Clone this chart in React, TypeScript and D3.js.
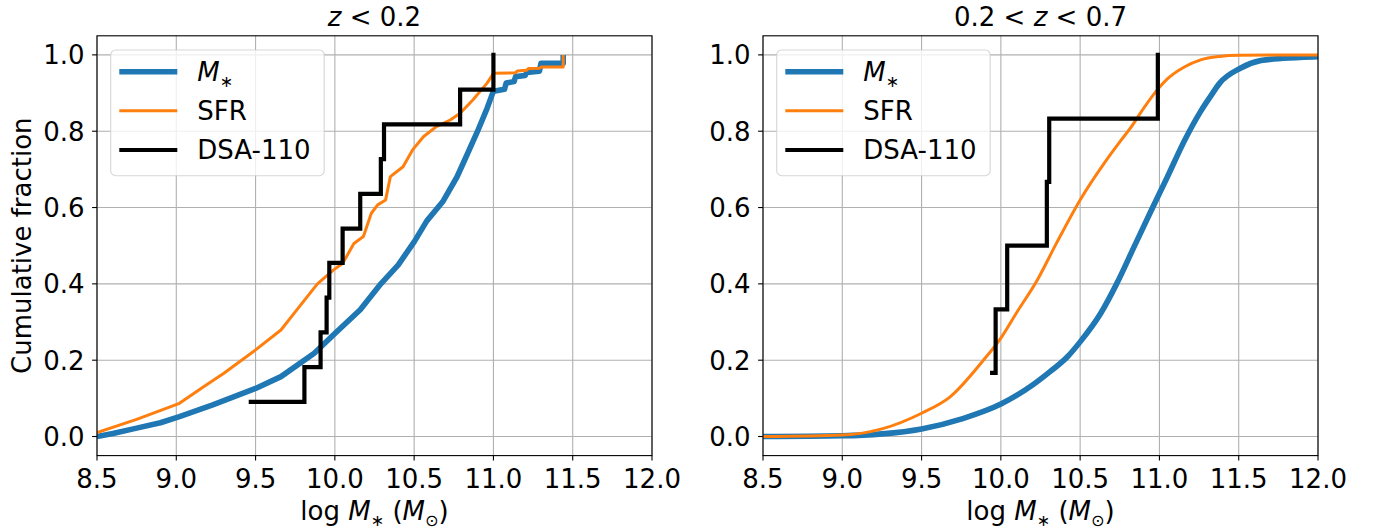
import React from "react";
import * as d3 from "d3";

const FONT = "DejaVu Sans, sans-serif";
const X_TICKS = [8.5, 9.0, 9.5, 10.0, 10.5, 11.0, 11.5, 12.0];
const Y_TICKS = [0.0, 0.2, 0.4, 0.6, 0.8, 1.0];
const SERIES_NAMES = ["Mstar", "SFR", "DSA-110"];
const COLORS = ["#1f77b4", "#ff7f0e", "#000000"];
const WIDTHS = [5.6, 3.0, 4.2];

// Panel 1: z < 0.2
const lowMstarX = [8.5, 8.6, 8.75, 8.9, 9.02, 9.23, 9.5, 9.66, 9.87, 10.0, 10.16, 10.29, 10.4, 10.5, 10.58, 10.68, 10.77, 10.83, 10.9, 10.96, 11.0, 11.07, 11.08, 11.13, 11.14, 11.2, 11.21, 11.29, 11.3, 11.44, 11.44];
const lowMstarY = [0.0, 0.008, 0.022, 0.036, 0.052, 0.083, 0.126, 0.157, 0.218, 0.27, 0.332, 0.4, 0.45, 0.51, 0.565, 0.615, 0.68, 0.735, 0.8, 0.86, 0.905, 0.91, 0.926, 0.93, 0.943, 0.946, 0.954, 0.957, 0.978, 0.978, 1.0];
const lowSfrX = [8.5, 8.75, 9.02, 9.17, 9.3, 9.5, 9.66, 9.76, 9.89, 9.99, 10.05, 10.12, 10.18, 10.23, 10.27, 10.32, 10.35, 10.43, 10.49, 10.56, 10.64, 10.73, 10.79, 10.87, 10.96, 10.99, 11.0, 11.14, 11.15, 11.21, 11.22, 11.29, 11.3, 11.44, 11.44];
const lowSfrY = [0.01, 0.045, 0.087, 0.13, 0.166, 0.227, 0.279, 0.332, 0.4, 0.436, 0.454, 0.506, 0.524, 0.585, 0.607, 0.62, 0.681, 0.707, 0.751, 0.786, 0.812, 0.83, 0.847, 0.882, 0.926, 0.945, 0.952, 0.953, 0.958, 0.96, 0.964, 0.965, 0.968, 0.968, 1.0];
const lowDsaX = [9.47, 9.808, 9.91, 9.948, 9.965, 10.049, 10.16, 10.29, 10.31, 10.79, 11.0];
const lowDsaY = [0.091, 0.182, 0.273, 0.364, 0.455, 0.545, 0.636, 0.727, 0.818, 0.909, 1.0];

// Panel 2: 0.2 < z < 0.7
const midMstarX = [8.5, 9.0, 9.25, 9.5, 9.76, 10.0, 10.2, 10.31, 10.42, 10.5, 10.63, 10.73, 10.84, 10.94, 11.05, 11.16, 11.26, 11.32, 11.38, 11.51, 11.64, 11.78, 12.0, 12.1];
const midMstarY = [0.0, 0.002, 0.007, 0.02, 0.047, 0.085, 0.135, 0.17, 0.209, 0.248, 0.323, 0.4, 0.497, 0.585, 0.68, 0.777, 0.852, 0.89, 0.926, 0.965, 0.985, 0.991, 0.995, 0.996];
const midSfrX = [8.5, 9.0, 9.25, 9.5, 9.68, 9.89, 10.0, 10.1, 10.23, 10.35, 10.5, 10.65, 10.75, 10.82, 10.9, 10.98, 11.05, 11.16, 11.26, 11.38, 11.5, 12.0, 12.1];
const midSfrY = [0.0, 0.004, 0.02, 0.061, 0.104, 0.2, 0.258, 0.325, 0.41, 0.506, 0.62, 0.715, 0.772, 0.81, 0.86, 0.905, 0.937, 0.969, 0.987, 0.996, 0.999, 1.0, 1.0];
const midDsaX = [9.945, 9.967, 10.04, 10.29, 10.305, 10.99];
const midDsaY = [0.167, 0.333, 0.5, 0.667, 0.833, 1.0];

const FS = 26;
const TOP = 35.8;
const BOTTOM = 455.6;
const WIDTH = 555;
const SUB = 6;
const SUBFS = FS * 0.62;

type PanelProps = {
  id: string;
  left: number;
  title: React.ReactNode;
  showYLabel: boolean;
  smooth: boolean;
  mx: number[]; my: number[];
  sx: number[]; sy: number[];
  dx: number[]; dy: number[];
};

function Panel(p: PanelProps) {
  const x = d3.scaleLinear().domain([8.5, 12]).range([p.left, p.left + WIDTH]);
  const y = d3.scaleLinear().domain([-0.05, 1.05]).range([BOTTOM, TOP]);
  const lin = d3.line<[number, number]>().x((d) => x(d[0])).y((d) => y(d[1]));
  if (p.smooth) lin.curve(d3.curveMonotoneX);
  const step = d3.line<[number, number]>().x((d) => x(d[0])).y((d) => y(d[1])).curve(d3.curveStepAfter);
  const mPts = p.mx.map((v, i) => [v, p.my[i]] as [number, number]);
  const sPts = p.sx.map((v, i) => [v, p.sy[i]] as [number, number]);
  const dPts = p.dx.map((v, i) => [v, p.dy[i]] as [number, number]);
  const cx = p.left + WIDTH / 2;
  const legX = p.left + 13.7;
  const legRows = [71.7, 110.7, 150];
  const labels: React.ReactNode[] = [
    <>
      <tspan fontStyle="italic">M</tspan>
      <tspan dy={SUB} fontSize={SUBFS}>{"\u2217"}</tspan>
    </>,
    "SFR",
    "DSA-110",
  ];
  return (
    <g>
      <defs>
        <clipPath id={p.id}>
          <rect x={p.left} y={TOP} width={WIDTH} height={BOTTOM - TOP} />
        </clipPath>
      </defs>
      {X_TICKS.map((t) => (
        <line key={"gx" + t} x1={x(t)} x2={x(t)} y1={TOP} y2={BOTTOM} stroke="#b0b0b0" strokeWidth={1.1} />
      ))}
      {Y_TICKS.map((t) => (
        <line key={"gy" + t} x1={p.left} x2={p.left + WIDTH} y1={y(t)} y2={y(t)} stroke="#b0b0b0" strokeWidth={1.1} />
      ))}
      <g clipPath={`url(#${p.id})`}>
        <path d={lin(mPts) || ""} fill="none" stroke={COLORS[0]} strokeWidth={WIDTHS[0]} strokeLinejoin="round" />
        <path d={lin(sPts) || ""} fill="none" stroke={COLORS[1]} strokeWidth={WIDTHS[1]} strokeLinejoin="round" />
        <path d={step(dPts) || ""} fill="none" stroke={COLORS[2]} strokeWidth={WIDTHS[2]} strokeLinejoin="miter" strokeLinecap="square" />
      </g>
      <rect x={p.left} y={TOP} width={WIDTH} height={BOTTOM - TOP} fill="none" stroke="#000" strokeWidth={1.1} />
      {X_TICKS.map((t) => (
        <g key={"tx" + t}>
          <line x1={x(t)} x2={x(t)} y1={BOTTOM} y2={BOTTOM + 4.9} stroke="#000" strokeWidth={1.1} />
          <text x={x(t)} y={488} textAnchor="middle" fontFamily={FONT} fontSize={FS} fill="#000">{t.toFixed(1)}</text>
        </g>
      ))}
      {Y_TICKS.map((t) => (
        <g key={"ty" + t}>
          <line x1={p.left - 4.9} x2={p.left} y1={y(t)} y2={y(t)} stroke="#000" strokeWidth={1.1} />
          <text x={p.left - 12.5} y={y(t)} dy="0.36em" textAnchor="end" fontFamily={FONT} fontSize={FS} fill="#000">{t.toFixed(1)}</text>
        </g>
      ))}
      <text x={cx} y={26} textAnchor="middle" fontFamily={FONT} fontSize={FS} fill="#000">{p.title}</text>
      <text x={cx} y={520} textAnchor="middle" fontFamily={FONT} fontSize={FS} fill="#000">
        <tspan>log </tspan>
        <tspan fontStyle="italic">M</tspan>
        <tspan dy={SUB} fontSize={SUBFS}>{"\u2217"}</tspan>
        <tspan dy={-SUB}> (</tspan>
        <tspan fontStyle="italic">M</tspan>
        <tspan dy={SUB} fontSize={SUBFS}>{"\u2299"}</tspan>
        <tspan dy={-SUB}>)</tspan>
      </text>
      {p.showYLabel && (
        <text transform={`translate(30.5, ${(TOP + BOTTOM) / 2}) rotate(-90)`} textAnchor="middle" fontFamily={FONT} fontSize={FS} fill="#000">
          Cumulative fraction
        </text>
      )}
      <rect x={legX} y={50} width={213.5} height={125.7} rx={5} ry={5} fill="#ffffff" fillOpacity={0.8} stroke="#cccccc" strokeOpacity={0.8} strokeWidth={1.1} />
      {SERIES_NAMES.map((n, i) => (
        <g key={n}>
          <line x1={legX + 8.6} x2={legX + 66.6} y1={legRows[i]} y2={legRows[i]} stroke={COLORS[i]} strokeWidth={WIDTHS[i]} strokeLinecap="butt" />
          <text x={legX + 86.6} y={legRows[i]} dy="0.36em" fontFamily={FONT} fontSize={FS} fill="#000">{labels[i]}</text>
        </g>
      ))}
    </g>
  );
}

export default function App() {
  return (
    <svg width={1375} height={529} style={{ position: "absolute", left: 0, top: 0, background: "#fff" }}>
      <rect x={0} y={0} width={1375} height={529} fill="#fff" />
      <Panel
        id="clipL"
        left={97}
        title={<><tspan fontStyle="italic">z</tspan><tspan>{" < 0.2"}</tspan></>}
        showYLabel={true}
        smooth={false}
        mx={lowMstarX} my={lowMstarY}
        sx={lowSfrX} sy={lowSfrY}
        dx={lowDsaX} dy={lowDsaY}
      />
      <Panel
        id="clipR"
        left={763}
        title={<><tspan>{"0.2 < "}</tspan><tspan fontStyle="italic">z</tspan><tspan>{" < 0.7"}</tspan></>}
        showYLabel={false}
        smooth={true}
        mx={midMstarX} my={midMstarY}
        sx={midSfrX} sy={midSfrY}
        dx={midDsaX} dy={midDsaY}
      />
    </svg>
  );
}
